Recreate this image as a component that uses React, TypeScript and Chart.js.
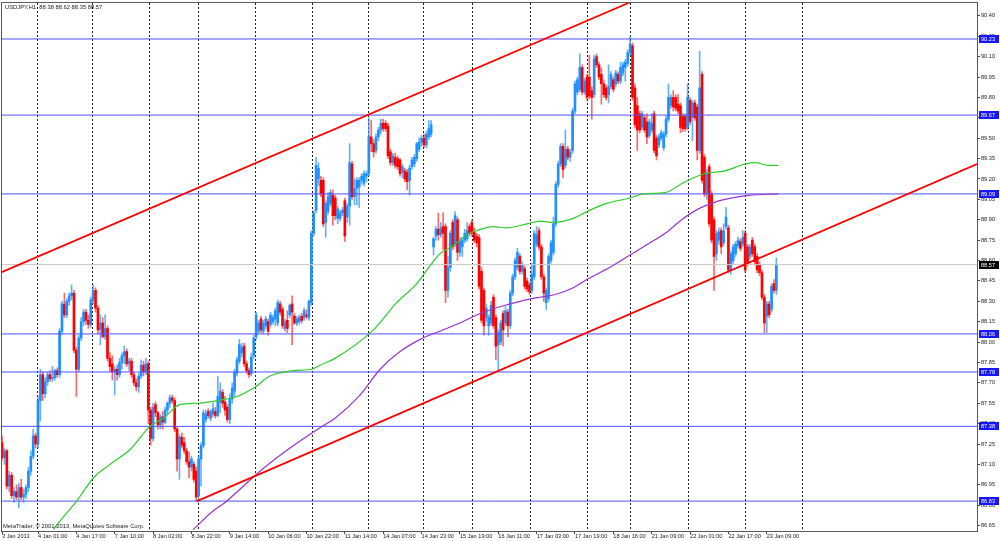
import React, { useEffect, useRef } from 'react';
import Chart from 'chart.js/auto';

// candle = [open, high, low, close], one hourly bar each, bar position = index + 1
type Candle = [number, number, number, number];

const jan03: Candle[] = [
  [87.26, 87.31, 87.13, 87.15], [87.15, 87.22, 87.10, 87.20], [87.20, 87.21, 86.92, 86.94],
  [86.94, 87.05, 86.90, 87.02], [87.02, 87.04, 86.85, 86.87], [86.87, 86.93, 86.82, 86.90],
  [86.90, 86.95, 86.84, 86.86], [86.86, 86.96, 86.78, 86.93], [86.93, 86.99, 86.84, 86.86],
  [86.86, 86.92, 86.82, 86.88], [86.88, 86.95, 86.85, 86.93], [86.93, 87.08, 86.90, 87.05],
  [87.05, 87.20, 87.02, 87.16], [87.16, 87.36, 87.14, 87.31], [87.31, 87.33, 87.22, 87.25],
];
const jan04: Candle[] = [
  [87.25, 87.60, 87.22, 87.57], [87.57, 87.80, 87.42, 87.76], [87.76, 87.78, 87.57, 87.62],
  [87.62, 87.74, 87.59, 87.71], [87.71, 87.78, 87.68, 87.76], [87.76, 87.79, 87.71, 87.73],
  [87.73, 87.82, 87.71, 87.74], [87.74, 87.80, 87.72, 87.79], [87.79, 87.81, 87.74, 87.76],
  [87.76, 88.10, 87.74, 88.08], [88.08, 88.30, 88.06, 88.28], [88.28, 88.36, 88.18, 88.20],
  [88.20, 88.32, 88.18, 88.30], [88.30, 88.36, 88.27, 88.34], [88.34, 88.42, 88.31, 88.36],
  [88.36, 88.38, 87.92, 87.94], [87.94, 87.96, 87.60, 87.80], [87.80, 88.05, 87.78, 88.03],
  [88.03, 88.18, 88.01, 88.15], [88.15, 88.24, 88.12, 88.22], [88.22, 88.24, 88.13, 88.16],
  [88.16, 88.20, 88.10, 88.13], [88.13, 88.33, 88.11, 88.31],
];
const jan07: Candle[] = [
  [88.31, 88.42, 88.28, 88.38], [88.38, 88.40, 88.22, 88.25], [88.25, 88.27, 88.06, 88.09],
  [88.09, 88.20, 87.98, 88.14], [88.14, 88.18, 88.03, 88.04], [88.04, 88.20, 88.02, 88.10],
  [88.10, 88.12, 87.86, 87.88], [87.88, 87.92, 87.78, 87.82], [87.84, 87.90, 87.72, 87.78],
  [87.78, 87.82, 87.61, 87.80], [87.80, 87.83, 87.72, 87.76], [87.76, 87.88, 87.74, 87.85],
  [87.85, 87.92, 87.80, 87.90], [87.90, 87.97, 87.84, 87.93], [87.93, 87.95, 87.82, 87.84],
  [87.84, 87.88, 87.79, 87.86], [87.86, 87.88, 87.74, 87.76], [87.76, 87.78, 87.68, 87.70],
  [87.70, 87.73, 87.64, 87.67], [87.67, 87.77, 87.63, 87.75], [87.75, 87.87, 87.73, 87.83],
  [87.83, 87.86, 87.75, 87.78], [87.78, 87.88, 87.76, 87.84], [87.84, 87.86, 87.40, 87.50],
];
const jan08: Candle[] = [
  [87.50, 87.52, 87.24, 87.29], [87.29, 87.55, 87.27, 87.52], [87.54, 87.56, 87.45, 87.48],
  [87.48, 87.49, 87.36, 87.39], [87.39, 87.47, 87.36, 87.45], [87.45, 87.49, 87.36, 87.41],
  [87.41, 87.52, 87.40, 87.50], [87.50, 87.56, 87.47, 87.55], [87.55, 87.61, 87.52, 87.59],
  [87.59, 87.61, 87.55, 87.57], [87.57, 87.59, 87.34, 87.36], [87.36, 87.38, 87.05, 87.14],
  [87.14, 87.32, 86.99, 87.30], [87.30, 87.33, 87.22, 87.24], [87.26, 87.30, 87.18, 87.20],
  [87.20, 87.22, 87.10, 87.12], [87.12, 87.19, 87.00, 87.08], [87.08, 87.16, 87.05, 87.14],
  [87.10, 87.12, 86.97, 86.99], [87.05, 87.08, 86.83, 86.86],
];
const jan09: Candle[] = [
  [86.87, 87.16, 86.85, 87.14], [87.14, 87.26, 86.94, 87.24], [87.24, 87.50, 87.22, 87.48],
  [87.43, 87.50, 87.41, 87.47], [87.49, 87.51, 87.44, 87.46], [87.44, 87.50, 87.42, 87.49],
  [87.47, 87.55, 87.45, 87.51], [87.49, 87.52, 87.44, 87.46], [87.46, 87.75, 87.45, 87.60],
  [87.56, 87.70, 87.48, 87.64], [87.63, 87.65, 87.52, 87.55], [87.56, 87.60, 87.46, 87.50],
  [87.52, 87.54, 87.41, 87.43], [87.43, 87.62, 87.40, 87.58], [87.58, 87.70, 87.55, 87.66],
  [87.64, 87.80, 87.60, 87.78], [87.77, 87.89, 87.75, 87.87], [87.86, 88.02, 87.84, 87.98],
  [87.92, 87.99, 87.89, 87.96], [87.97, 87.99, 87.82, 87.84], [87.84, 87.86, 87.77, 87.79],
  [87.79, 87.81, 87.74, 87.76], [87.77, 87.92, 87.75, 87.89], [87.90, 88.05, 87.88, 88.03],
];
const jan10: Candle[] = [
  [88.04, 88.22, 88.02, 88.20], [88.08, 88.16, 88.06, 88.14], [88.17, 88.19, 88.07, 88.09],
  [88.08, 88.16, 88.06, 88.14], [88.12, 88.19, 88.10, 88.17], [88.15, 88.17, 88.05, 88.08],
  [88.13, 88.22, 88.11, 88.20], [88.15, 88.20, 88.13, 88.18], [88.17, 88.25, 88.12, 88.23],
  [88.14, 88.31, 88.12, 88.29], [88.28, 88.30, 88.20, 88.22], [88.24, 88.26, 88.10, 88.12],
  [88.10, 88.17, 88.08, 88.15], [88.16, 88.23, 88.07, 88.10], [88.20, 88.28, 88.18, 88.27],
  [88.28, 88.34, 87.98, 88.22], [88.19, 88.21, 88.13, 88.14], [88.14, 88.19, 88.12, 88.17],
  [88.15, 88.20, 88.13, 88.18], [88.19, 88.21, 88.14, 88.16], [88.18, 88.25, 88.16, 88.23],
  [88.20, 88.24, 88.17, 88.19], [88.18, 88.31, 88.16, 88.30], [88.29, 88.82, 88.27, 88.80],
];
const jan11: Candle[] = [
  [88.80, 88.97, 88.78, 88.95], [88.97, 89.36, 88.95, 89.30], [89.20, 89.32, 89.15, 89.28],
  [89.19, 89.22, 89.07, 89.09], [89.19, 89.21, 88.85, 88.87], [88.88, 89.04, 88.77, 89.02],
  [88.96, 89.10, 88.94, 89.07], [89.02, 89.12, 89.00, 89.10], [89.08, 89.12, 88.86, 88.93],
  [89.06, 89.08, 88.90, 88.93], [88.91, 89.00, 88.87, 88.98], [88.91, 88.97, 88.89, 88.95],
  [88.95, 88.99, 88.93, 88.97], [89.04, 89.06, 88.74, 88.78], [88.92, 89.02, 88.88, 89.00],
  [89.00, 89.46, 88.86, 89.32], [89.31, 89.33, 89.05, 89.07], [89.07, 89.20, 89.01, 89.13],
  [89.13, 89.21, 89.01, 89.19], [89.14, 89.21, 88.99, 89.19], [89.19, 89.24, 89.16, 89.22],
  [89.17, 89.26, 89.15, 89.24], [89.22, 89.26, 89.18, 89.24],
];
const jan14: Candle[] = [
  [89.24, 89.65, 89.22, 89.51], [89.51, 89.63, 89.40, 89.46], [89.46, 89.49, 89.36, 89.40],
  [89.41, 89.53, 89.39, 89.51], [89.51, 89.58, 89.48, 89.56], [89.56, 89.64, 89.53, 89.61],
  [89.61, 89.64, 89.55, 89.57], [89.61, 89.63, 89.55, 89.57], [89.59, 89.61, 89.35, 89.37],
  [89.40, 89.42, 89.30, 89.32], [89.32, 89.39, 89.30, 89.37], [89.36, 89.39, 89.28, 89.30],
  [89.35, 89.37, 89.27, 89.29], [89.34, 89.35, 89.22, 89.24], [89.25, 89.31, 89.21, 89.29],
  [89.26, 89.28, 89.18, 89.20], [89.25, 89.27, 89.12, 89.18], [89.19, 89.30, 89.08, 89.28],
  [89.29, 89.36, 89.27, 89.34], [89.31, 89.38, 89.29, 89.36], [89.35, 89.47, 89.33, 89.46],
  [89.42, 89.50, 89.40, 89.47], [89.47, 89.52, 89.44, 89.50],
];
const jan15: Candle[] = [
  [89.50, 89.53, 89.43, 89.45], [89.45, 89.55, 89.43, 89.53], [89.51, 89.63, 89.49, 89.57],
  [89.53, 89.63, 89.51, 89.60], [88.70, 88.77, 88.64, 88.76], [88.78, 88.85, 88.75, 88.83],
  [88.83, 88.95, 88.75, 88.79], [88.79, 88.88, 88.77, 88.84], [88.85, 88.95, 88.68, 88.80],
  [88.85, 88.87, 88.29, 88.38], [88.38, 88.63, 88.33, 88.55], [88.55, 88.82, 88.52, 88.80],
  [88.88, 88.90, 88.68, 88.70], [88.72, 88.96, 88.70, 88.93], [88.90, 88.92, 88.60, 88.66],
  [88.66, 88.77, 88.63, 88.74], [88.70, 88.77, 88.63, 88.75], [88.75, 88.83, 88.73, 88.80],
  [88.76, 88.88, 88.74, 88.82], [88.85, 88.87, 88.78, 88.80], [88.88, 88.90, 88.78, 88.80],
];
const jan16: Candle[] = [
  [88.81, 88.84, 88.73, 88.75], [88.78, 88.80, 88.70, 88.73], [88.77, 88.79, 88.39, 88.41],
  [88.52, 88.55, 88.14, 88.16], [88.38, 88.40, 88.05, 88.12], [88.18, 88.28, 88.15, 88.25],
  [88.12, 88.20, 88.05, 88.18], [88.14, 88.30, 88.12, 88.27], [88.33, 88.35, 88.10, 88.12],
  [88.18, 88.20, 87.87, 87.97], [87.98, 88.09, 87.79, 88.07], [88.00, 88.16, 87.98, 88.14],
  [88.21, 88.23, 87.97, 88.09], [88.14, 88.26, 88.12, 88.23], [88.22, 88.24, 88.04, 88.12],
  [88.12, 88.38, 88.10, 88.36], [88.36, 88.50, 88.34, 88.48], [88.48, 88.62, 88.46, 88.60],
  [88.55, 88.69, 88.53, 88.66], [88.63, 88.65, 88.50, 88.52], [88.52, 88.59, 88.50, 88.57],
  [88.54, 88.56, 88.39, 88.41], [88.45, 88.47, 88.37, 88.39], [88.42, 88.44, 88.35, 88.37],
];
const jan17: Candle[] = [
  [88.38, 88.58, 88.36, 88.50], [88.48, 88.82, 88.46, 88.80], [88.72, 88.85, 88.70, 88.79],
  [88.82, 88.84, 88.68, 88.70], [88.70, 88.72, 88.46, 88.48], [88.48, 88.50, 88.30, 88.36],
  [88.29, 88.40, 88.24, 88.38], [88.32, 88.65, 88.30, 88.63], [88.60, 88.75, 88.58, 88.73],
  [88.66, 88.92, 88.64, 88.87], [88.87, 89.18, 88.85, 89.16], [89.16, 89.33, 89.14, 89.31],
  [89.31, 89.46, 89.29, 89.44], [89.44, 89.46, 89.21, 89.27], [89.30, 89.56, 89.28, 89.42],
  [89.42, 89.44, 89.34, 89.36], [89.36, 89.42, 89.33, 89.40], [89.41, 89.72, 89.39, 89.70],
  [89.70, 89.92, 89.68, 89.90], [89.84, 89.95, 89.82, 89.93], [89.86, 90.12, 89.84, 90.02],
  [90.02, 90.04, 89.82, 89.84], [89.84, 89.94, 89.82, 89.92], [89.95, 89.97, 89.78, 89.80],
];
const jan18: Candle[] = [
  [89.95, 90.11, 89.79, 89.81], [89.85, 89.88, 89.64, 89.80], [89.82, 90.11, 89.80, 90.08],
  [90.10, 90.12, 90.02, 90.04], [90.04, 90.06, 89.93, 89.95], [89.97, 90.02, 89.75, 89.90],
  [89.90, 89.93, 89.80, 89.82], [89.87, 89.89, 89.78, 89.80], [89.82, 90.04, 89.76, 89.88],
  [89.88, 89.99, 89.86, 89.97], [89.93, 89.95, 89.84, 89.86], [89.90, 90.00, 89.88, 89.98],
  [89.97, 89.99, 89.90, 89.92], [89.92, 90.06, 89.90, 90.02], [89.98, 90.06, 89.96, 90.04],
  [90.02, 90.08, 89.92, 90.06], [90.05, 90.15, 90.03, 90.13], [90.13, 90.25, 90.11, 90.19],
];
const jan21: Candle[] = [
  [90.18, 90.20, 89.78, 89.80], [89.87, 89.90, 89.58, 89.60], [89.74, 89.80, 89.41, 89.56],
  [89.68, 89.70, 89.54, 89.56], [89.58, 89.70, 89.56, 89.68], [89.65, 89.67, 89.54, 89.56],
  [89.62, 89.68, 89.46, 89.51], [89.52, 89.64, 89.50, 89.62], [89.56, 89.68, 89.54, 89.61],
  [89.68, 89.70, 89.39, 89.41], [89.50, 89.52, 89.34, 89.37], [89.45, 89.53, 89.43, 89.51],
  [89.50, 89.56, 89.48, 89.54], [89.43, 89.55, 89.41, 89.53], [89.53, 89.66, 89.51, 89.64],
  [89.64, 89.90, 89.62, 89.80], [89.74, 89.82, 89.72, 89.80], [89.80, 89.85, 89.70, 89.73],
  [89.80, 89.82, 89.70, 89.72], [89.75, 89.82, 89.68, 89.70], [89.74, 89.76, 89.54, 89.58],
  [89.66, 89.68, 89.55, 89.57], [89.66, 89.68, 89.55, 89.57], [89.58, 89.90, 89.56, 89.80],
];
const jan22: Candle[] = [
  [89.78, 89.80, 89.60, 89.62], [89.65, 89.78, 89.48, 89.76], [89.76, 89.78, 89.63, 89.65],
  [89.73, 89.75, 89.34, 89.41], [89.41, 90.14, 89.39, 89.87], [89.97, 89.99, 89.17, 89.19],
  [89.36, 89.38, 89.07, 89.09], [89.09, 89.27, 89.05, 89.24], [89.29, 89.31, 88.85, 88.87],
  [89.09, 89.11, 88.73, 88.75], [88.90, 88.92, 88.38, 88.63], [88.65, 88.82, 88.60, 88.80],
  [88.75, 88.84, 88.72, 88.81], [88.82, 88.84, 88.65, 88.70], [88.73, 88.87, 88.71, 88.82],
  [88.85, 88.99, 88.83, 88.92], [88.84, 88.86, 88.51, 88.53], [88.53, 88.67, 88.50, 88.65],
  [88.60, 88.72, 88.58, 88.70], [88.65, 88.74, 88.63, 88.72], [88.71, 88.77, 88.69, 88.75],
  [88.74, 88.76, 88.67, 88.69], [88.72, 88.82, 88.70, 88.77], [88.80, 88.82, 88.51, 88.53],
];
const jan23: Candle[] = [
  [88.70, 88.72, 88.56, 88.58], [88.63, 88.72, 88.61, 88.70], [88.75, 88.77, 88.63, 88.65],
  [88.70, 88.72, 88.57, 88.59], [88.63, 88.65, 88.51, 88.53], [88.57, 88.59, 88.49, 88.51],
  [88.51, 88.53, 88.31, 88.33], [88.33, 88.35, 88.07, 88.14], [88.19, 88.30, 88.07, 88.28],
  [88.28, 88.30, 88.18, 88.20], [88.24, 88.43, 88.22, 88.41], [88.43, 88.46, 88.36, 88.38],
  [88.38, 88.62, 88.35, 88.57],
];

const candles: Candle[] = [
  ...jan03, ...jan04, ...jan07, ...jan08, ...jan09, ...jan10, ...jan11, ...jan14,
  ...jan15, ...jan16, ...jan17, ...jan18, ...jan21, ...jan22, ...jan23,
];

const symbol = 'USDJPY';
const timeframe = 'H1';

const timeLabels = [
  '3 Jan 2013', '4 Jan 01:00', '4 Jan 17:00', '7 Jan 10:00', '8 Jan 02:00', '8 Jan 22:00',
  '9 Jan 14:00', '10 Jan 06:00', '10 Jan 22:00', '11 Jan 14:00', '14 Jan 07:00', '14 Jan 23:00',
  '15 Jan 19:00', '16 Jan 11:00', '17 Jan 03:00', '17 Jan 19:00', '18 Jan 16:00', '21 Jan 09:00',
  '22 Jan 01:00', '22 Jan 17:00', '23 Jan 09:00',
];
const timeLabelBars = [1, 16, 32, 48, 64, 80, 96, 112, 128, 144, 160, 176, 192, 208, 224, 240, 256, 272, 288, 304, 320];

// day separators (dotted vertical lines), in bar positions
const daySeparators = [15.7, 38.7, 62.7, 82.9, 106.6, 130.6, 153.7, 176.8, 197.1, 221.3, 245.2, 263.0, 287.2, 311.1, 334.9];

const priceTicks = [
  90.40, 90.25, 90.10, 89.95, 89.80, 89.65, 89.50, 89.35, 89.20, 89.05, 88.90, 88.75, 88.60,
  88.45, 88.30, 88.15, 88.00, 87.85, 87.70, 87.55, 87.40, 87.25, 87.10, 86.95, 86.80, 86.65,
];

const levels = [90.23, 89.67, 89.09, 88.06, 87.78, 87.38, 86.83];
const bidPrice = 88.57;

// moving averages: [bar position, price]
const maGreen: [number, number][] = [
  [22.4, 86.62], [25.9, 86.70], [32.1, 86.83], [39.1, 87.00], [46.0, 87.10], [54.4, 87.21],
  [62.7, 87.38], [68.3, 87.44], [75.2, 87.54], [82.9, 87.55], [87.8, 87.56], [94.0, 87.58],
  [97.5, 87.59], [105.8, 87.66], [112.8, 87.75], [122.5, 87.79], [130.2, 87.80], [133.6, 87.83],
  [139.9, 87.88], [155.9, 88.09], [165.6, 88.29], [174.0, 88.43], [178.2, 88.53], [183.7, 88.65],
  [189.3, 88.71], [194.8, 88.79], [199.0, 88.82], [205.9, 88.85], [211.5, 88.84], [219.9, 88.87],
  [225.4, 88.89], [231.0, 88.88], [239.3, 88.91], [244.9, 88.96], [253.2, 89.02], [263.0, 89.06],
  [268.5, 89.09], [277.6, 89.10], [285.9, 89.18], [294.3, 89.24], [302.6, 89.26], [310.9, 89.31],
  [315.1, 89.32], [320.7, 89.30], [324.8, 89.30],
];
const maPurple: [number, number][] = [
  [80.7, 86.62], [88.5, 86.75], [94.0, 86.82], [108.6, 87.05], [121.1, 87.22], [133.6, 87.37],
  [139.9, 87.44], [150.3, 87.61], [158.7, 87.80], [167.0, 87.93], [175.4, 88.02], [183.7, 88.08],
  [192.0, 88.14], [200.4, 88.21], [208.7, 88.26], [217.1, 88.30], [225.4, 88.33], [231.7, 88.35],
  [239.3, 88.40], [244.9, 88.46], [254.6, 88.55], [263.0, 88.64], [271.3, 88.73], [277.6, 88.80],
  [284.5, 88.90], [291.5, 88.98], [298.4, 89.03], [305.4, 89.06], [312.3, 89.08], [324.8, 89.09],
];

// channel trend lines: two anchor points each
const channelUpper: [number, number][] = [[0.15, 88.51], [263.0, 90.50]];
const channelLower: [number, number][] = [[82.3, 86.83], [407.7, 89.31]];

const X_MIN = 0.98;
const X_MAX = 407.7;
const Y_MIN = 86.61;
const Y_MAX = 90.495;

const FONT = 'Liberation Sans, Arial, sans-serif';
const BLUE = '#1e90ff';
const RED = '#ff0000';

const isUp = (c?: Candle) => !!c && c[3] >= c[0];

const overlayPlugin = {
  id: 'mtOverlay',
  afterDraw(chart: any) {
    const { ctx, chartArea } = chart;
    const y = chart.scales.y;
    ctx.save();
    // frame
    ctx.strokeStyle = '#5a5a5a';
    ctx.lineWidth = 1;
    ctx.strokeRect(chartArea.left - 0.5, chartArea.top - 0.5,
      chartArea.right - chartArea.left + 1, chartArea.bottom - chartArea.top + 1);

    ctx.font = `5.6px ${FONT}`;
    ctx.textBaseline = 'middle';
    ctx.textAlign = 'left';
    const box = (v: number, bg: string) => {
      const py = Math.round(y.getPixelForValue(v));
      ctx.fillStyle = bg;
      ctx.fillRect(chartArea.right + 2, py - 4, 20, 8);
      ctx.fillStyle = '#ffffff';
      ctx.fillText(v.toFixed(2), chartArea.right + 4, py + 0.5);
    };
    levels.forEach((v) => box(v, '#1717ff'));
    box(bidPrice, '#000000');

    const last = candles[candles.length - 1];
    ctx.fillStyle = '#222';
    ctx.font = `5.8px ${FONT}`;
    ctx.fillText(`${symbol},${timeframe}  ${last.map((v) => v.toFixed(2)).join(' ')}`, 5, 7);
    ctx.fillText('MetaTrader, \u00a9 2001-2013, MetaQuotes Software Corp.', 3, chartArea.bottom - 5);
    ctx.restore();
  },
};

const hLine = (v: number, color: string) => ({
  type: 'line' as const,
  data: [{ x: X_MIN - 1, y: v }, { x: X_MAX + 1, y: v }],
  borderColor: color,
  borderWidth: 1,
  pointRadius: 0,
  order: 1,
});

const App: React.FC = () => {
  const chartRef = useRef<HTMLCanvasElement>(null);
  const chartInstance = useRef<Chart | null>(null);

  useEffect(() => {
    if (!chartRef.current) return;
    if (chartInstance.current) chartInstance.current.destroy();
    const ctx = chartRef.current.getContext('2d');
    if (!ctx) return;

    const wickData = candles.map((c, k) => ({ x: k + 1, y: [c[2], c[1]] }));
    const bodyData = candles.map((c, k) => ({ x: k + 1, y: [c[0], c[3]] }));

    chartInstance.current = new Chart(ctx, {
      type: 'bar',
      data: {
        datasets: [
          {
            type: 'line',
            data: channelUpper.map(([x, y]) => ({ x, y })),
            borderColor: RED,
            borderWidth: 1.8,
            pointRadius: 0,
            order: 0,
          },
          {
            type: 'line',
            data: channelLower.map(([x, y]) => ({ x, y })),
            borderColor: RED,
            borderWidth: 1.8,
            pointRadius: 0,
            order: 0,
          },
          {
            type: 'line',
            data: maGreen.map(([x, y]) => ({ x, y })),
            borderColor: '#2ecc2e',
            borderWidth: 1.2,
            pointRadius: 0,
            cubicInterpolationMode: 'monotone',
            order: 0,
          },
          {
            type: 'line',
            data: maPurple.map(([x, y]) => ({ x, y })),
            borderColor: '#9933cc',
            borderWidth: 1.2,
            pointRadius: 0,
            cubicInterpolationMode: 'monotone',
            order: 0,
          },
          ...levels.map((v) => hLine(v, '#4f4fff')),
          hLine(bidPrice, '#c8c8c8'),
          {
            type: 'bar',
            data: bodyData as any,
            backgroundColor: (c: any) => (isUp(candles[c.dataIndex]) ? BLUE : RED),
            barThickness: 2,
            minBarLength: 1,
            grouped: false,
            order: 2,
          },
          {
            type: 'bar',
            data: wickData as any,
            backgroundColor: (c: any) => (isUp(candles[c.dataIndex]) ? 'rgba(30,144,255,0.7)' : 'rgba(255,0,0,0.6)'),
            barThickness: 1,
            grouped: false,
            order: 3,
          },
        ] as any,
      },
      plugins: [overlayPlugin],
      options: {
        animation: false,
        responsive: false,
        devicePixelRatio: 1,
        layout: { padding: { left: 2, top: 2, right: 0, bottom: 0 } },
        plugins: { legend: { display: false }, tooltip: { enabled: false } },
        scales: {
          x: {
            type: 'linear',
            position: 'bottom',
            min: X_MIN,
            max: X_MAX,
            offset: false,
            afterBuildTicks: (s: any) => { s.ticks = timeLabelBars.map((v) => ({ value: v })); },
            afterFit: (s: any) => { s.height = 10; },
            ticks: {
              autoSkip: false,
              maxRotation: 0,
              minRotation: 0,
              align: 'start',
              padding: 0,
              color: '#222',
              font: { family: FONT, size: 5.6, lineHeight: 1 },
              callback: (_v: any, i: number) => timeLabels[i],
            },
            grid: { drawOnChartArea: false, drawTicks: true, tickLength: 3, color: '#444', offset: false },
            border: { display: false },
          },
          xSep: {
            type: 'linear',
            position: 'bottom',
            min: X_MIN,
            max: X_MAX,
            offset: false,
            afterBuildTicks: (s: any) => { s.ticks = daySeparators.map((v) => ({ value: v })); },
            afterFit: (s: any) => { s.height = 0; },
            ticks: { display: false },
            grid: { drawOnChartArea: true, drawTicks: false, color: '#1a1a1a', lineWidth: 1, offset: false },
            border: { display: false, dash: [2, 2] },
          },
          y: {
            type: 'linear',
            position: 'right',
            min: Y_MIN,
            max: Y_MAX,
            afterBuildTicks: (s: any) => { s.ticks = priceTicks.map((v) => ({ value: v })); },
            afterFit: (s: any) => { s.width = 23; },
            ticks: {
              padding: 1,
              color: '#222',
              font: { family: FONT, size: 5.6, lineHeight: 0.7 },
              callback: (v: any) => Number(v).toFixed(2),
            },
            grid: { drawOnChartArea: false, drawTicks: true, tickLength: 3, color: '#444' },
            border: { display: false },
          },
        },
      } as any,
    });

    return () => {
      if (chartInstance.current) {
        chartInstance.current.destroy();
        chartInstance.current = null;
      }
    };
  }, []);

  return (
    <div style={{ position: 'fixed', left: 0, top: 0, width: 1000, height: 541, background: '#fff' }}>
      <canvas ref={chartRef} width={1000} height={541} />
    </div>
  );
};

export default App;
